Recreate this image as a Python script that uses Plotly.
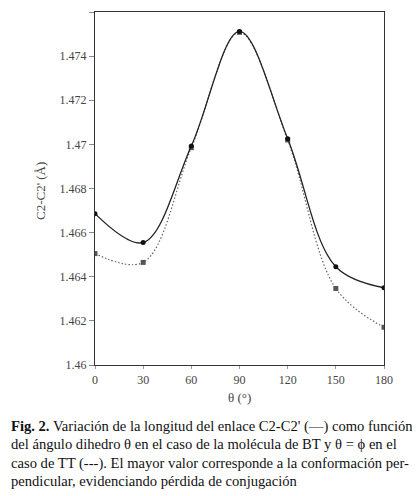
import plotly.graph_objects as go

theta = [0, 30, 60, 90, 120, 150, 180]
bt_values = [1.46686, 1.46555, 1.46993, 1.47512, 1.47026, 1.46445, 1.46350]
tt_values = [1.46505, 1.46465, 1.46985, 1.47508, 1.47020, 1.46347, 1.46171]
y_tick_vals = [1.46, 1.462, 1.464, 1.466, 1.468, 1.47, 1.472, 1.474, 1.476]
y_tick_text = ["1.46", "1.462", "1.464", "1.466", "1.468", "1.47", "1.472", "1.474", "1.476"]
x_tick_vals = [0, 30, 60, 90, 120, 150, 180]
caption_lines = [
    "<b>Fig. 2.</b> Variación de la longitud del enlace C2-C2' (—) como función",
    "del ángulo dihedro θ en el caso de la molécula de BT y θ = ϕ en el",
    "caso de TT (---). El mayor valor corresponde a la conformación per-",
    "pendicular, evidenciando pérdida de conjugación",
]

SERIF = "Liberation Serif"

W, H = 420, 496
L, R, T, B = 87, 44, 4, 139
plot_h = H - T - B
plot_w = W - L - R


def py(pix):
    return (H - B - pix) / plot_h


def px(pix):
    return (pix - L) / plot_w


fig = go.Figure()
fig.add_trace(go.Scatter(
    x=theta, y=tt_values, mode="lines+markers",
    line=dict(color="#666666", width=1.2, dash="1.5px,2px", shape="spline", smoothing=1),
    marker=dict(symbol="square", size=5, color="#555555"),
    showlegend=False,
))
fig.add_trace(go.Scatter(
    x=theta, y=bt_values, mode="lines+markers",
    line=dict(color="#222222", width=1.3, shape="spline", smoothing=1),
    marker=dict(symbol="circle", size=5, color="#111111"),
    showlegend=False,
))

axis_font = dict(family=SERIF, size=12, color="#444444")
fig.update_layout(
    width=W, height=H,
    margin=dict(l=L, r=R, t=T, b=B),
    paper_bgcolor="white", plot_bgcolor="white",
    font=dict(family=SERIF),
    xaxis=dict(
        range=[0, 180], tickvals=x_tick_vals, showgrid=False, zeroline=False,
        showline=True, linecolor="#333333", linewidth=1.3, mirror=True,
        ticks="outside", ticklen=3, tickcolor="#999999",
        tickfont=axis_font,
    ),
    yaxis=dict(
        range=[1.46, 1.476], tickvals=y_tick_vals, ticktext=y_tick_text,
        showgrid=False, zeroline=False,
        showline=True, linecolor="#333333", linewidth=1.3, mirror=True,
        ticks="outside", ticklen=5, tickcolor="#888888",
        tickfont=axis_font,
    ),
)

fig.add_annotation(
    text="C2-C2' (Å)", xref="paper", yref="paper", x=px(33), y=py(183),
    textangle=-90, showarrow=False, xanchor="center", yanchor="middle",
    font=dict(family=SERIF, size=13, color="#444444"),
)
fig.add_annotation(
    text="θ (°)", xref="paper", yref="paper", x=px(231), y=py(389),
    showarrow=False, xanchor="center", yanchor="middle",
    font=dict(family=SERIF, size=13, color="#444444"),
)

line_y = [418, 436, 455, 473]
for txt, yy in zip(caption_lines, line_y):
    fig.add_annotation(
        text=txt, xref="paper", yref="paper", x=px(1), y=py(yy),
        showarrow=False, xanchor="left", yanchor="middle",
        font=dict(family=SERIF, size=14.6, color="#111111"),
    )

fig.write_html("out.html")
